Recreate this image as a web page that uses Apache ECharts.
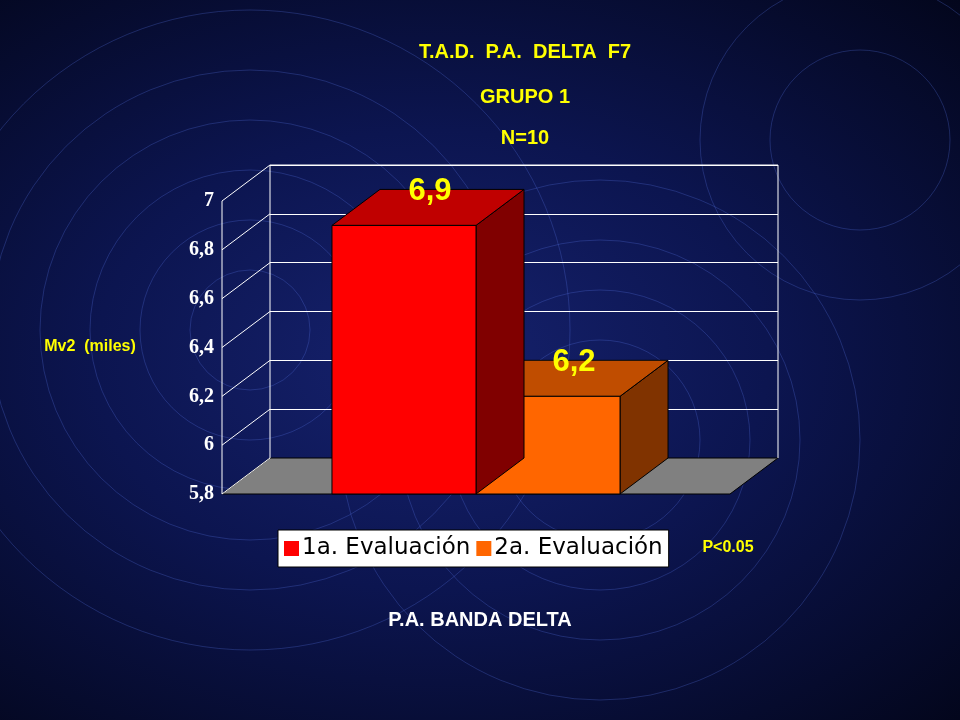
<!DOCTYPE html>
<html><head><meta charset="utf-8">
<script src="https://cdn.jsdelivr.net/npm/echarts@6/dist/echarts.min.js"></script>
<style>html,body{margin:0;padding:0}#c{width:960px;height:720px;background:radial-gradient(ellipse at 45% 50%,#16226e 0%,#0c1550 45%,#03061c 100%)}</style>
</head><body><div id="c"></div>
<script>
const categories = ['1a. Evaluación', '2a. Evaluación'];
const values = [6.9, 6.2];
const yTicks = [5.8, 6.0, 6.2, 6.4, 6.6, 6.8, 7.0];
const seriesNames = ['1a. Evaluación', '2a. Evaluación'];

const DX = 48, DY = -36;
const faces = [
  {front:'#ff0000', top:'#c00000', side:'#800000'},
  {front:'#ff6600', top:'#c04d00', side:'#803300'}
];
const chart = echarts.init(document.getElementById('c'));

function barRender(k){
  return function(params, api){
    const v = api.value(1);
    const c0 = api.coord([0, 5.8]), c1 = api.coord([1, 5.8]);
    const mid = (c0[0]+c1[0])/2;
    const w = (c1[0]-c0[0])*0.567;
    const x0 = k===0 ? mid - w : mid, x1 = x0 + w;
    const yb = api.coord([k, 5.8])[1], yt = api.coord([k, v])[1];
    const f = faces[k];
    const st = {stroke:'#000', lineWidth:1};
    return {type:'group', children:[
      {type:'polygon', shape:{points:[[x1,yb],[x1+DX,yb+DY],[x1+DX,yt+DY],[x1,yt]]}, style:Object.assign({fill:f.side},st)},
      {type:'polygon', shape:{points:[[x0,yt],[x1,yt],[x1+DX,yt+DY],[x0+DX,yt+DY]]}, style:Object.assign({fill:f.top},st)},
      {type:'rect', shape:{x:x0,y:yt,width:w,height:yb-yt}, style:Object.assign({fill:f.front},st)},
      {type:'text', style:{x:x0+w/2+DX/2+2, y:yt+DY/2-16, text:values[k].toFixed(1).replace('.',','), fill:'#ffff00', font:'bold 31px Arial', textAlign:'center', textVerticalAlign:'middle'}}
    ]};
  };
}

const wallRender = function(params, api){
  const v = api.value(0);
  const p = api.coord([0, v]);
  const xl = api.coord([0,5.8])[0] - (api.coord([1,5.8])[0]-api.coord([0,5.8])[0])/2;
  return {type:'line', shape:{x1:xl, y1:p[1], x2:xl+DX, y2:p[1]+DY}, style:{stroke:'#fff', lineWidth:1}};
};
const floorRender = function(params, api){
  const c0 = api.coord([0,5.8]), c1 = api.coord([1,5.8]);
  const half = (c1[0]-c0[0])/2;
  const xl = c0[0]-half, xr = c1[0]+half, y = c0[1];
  const yt = api.coord([0,7])[1];
  return {type:'group', children:[
    {type:'polygon', shape:{points:[[xl,y],[xr,y],[xr+DX,y+DY],[xl+DX,y+DY]]}, style:{fill:'#808080', stroke:'#000', lineWidth:1}},
    {type:'polyline', shape:{points:[[xl+DX,y+DY],[xl+DX,yt+DY],[xr+DX,yt+DY],[xr+DX,y+DY]]}, style:{fill:null, stroke:'#fff', lineWidth:1}},
    {type:'line', shape:{x1:xl,y1:y,x2:xl,y2:yt}, style:{stroke:'#fff', lineWidth:1}}
  ]};
};

const rings = [];
[[250,330,[60,110,160,210,260,320]],[600,440,[50,100,150,200,260]],[860,140,[90,160]]].forEach(([cx,cy,rs])=>{
  rs.forEach(r=>rings.push({type:'circle', z:-10, silent:true, shape:{cx,cy,r}, style:{fill:null, stroke:'rgba(90,120,230,0.28)', lineWidth:1}}));
});
const T = (x,y,text,fill,font)=>({type:'text', x, y, style:{text, fill, font, textAlign:'center', textVerticalAlign:'middle'}});

chart.setOption({
  backgroundColor:'transparent',
  animation:false,
  graphic: rings.concat([
    T(525,52,'T.A.D.  P.A.  DELTA  F7','#ffff00','bold 20px Arial'),
    T(525,97,'GRUPO 1','#ffff00','bold 20px Arial'),
    T(525,138,'N=10','#ffff00','bold 20px Arial'),
    T(90,347,'Mv2  (miles)','#ffff00','bold 16px Arial'),
    T(728,548,'P<0.05','#ffff00','bold 16px Arial'),
    T(480,620,'P.A. BANDA DELTA','#ffffff','bold 20px Arial')
  ]),
  legend:{data:seriesNames, left:278, top:530, backgroundColor:'#fff', borderColor:'#000', borderWidth:1, padding:[7,6], itemGap:6, itemWidth:15, itemHeight:15, icon:'rect',
    textStyle:{color:'#000', fontSize:23, fontFamily:'DejaVu Sans', padding:[0,0,0,-2]}},
  grid:[{left:222, right:230, top:201, bottom:226},{left:270, right:182, top:165, bottom:262}],
  xAxis:[{type:'category', data:categories, gridIndex:0, show:false},{type:'category', data:categories, gridIndex:1, show:false}],
  yAxis:[
    {type:'value', gridIndex:0, min:5.8, max:7, interval:0.2, axisLine:{show:false}, axisTick:{show:false}, splitLine:{show:false},
      axisLabel:{color:'#fff', fontSize:20, fontFamily:'Liberation Serif', fontWeight:'bold', margin:8, formatter:v=>(Math.round(v*10)/10).toString().replace('.',',')}},
    {type:'value', gridIndex:1, min:5.8, max:7, interval:0.2, axisLine:{show:false}, axisTick:{show:false}, axisLabel:{show:false}, splitLine:{lineStyle:{color:'#fff', width:1}}}
  ],
  series:[
    {type:'custom', name:'floor', xAxisIndex:0, yAxisIndex:0, data:[[0,5.8]], renderItem:floorRender, z:1, silent:true},
    {type:'custom', name:'wall', xAxisIndex:0, yAxisIndex:0, data:yTicks.map(t=>[t]), encode:{y:0}, renderItem:wallRender, z:1, silent:true},
    {type:'custom', name:seriesNames[0], itemStyle:{color:'#ff0000'}, xAxisIndex:0, yAxisIndex:0, data:[[0, values[0]]], renderItem:barRender(0), z:5},
    {type:'custom', name:seriesNames[1], itemStyle:{color:'#ff6600'}, xAxisIndex:0, yAxisIndex:0, data:[[1, values[1]]], renderItem:barRender(1), z:4}
  ]
});
</script></body></html>
